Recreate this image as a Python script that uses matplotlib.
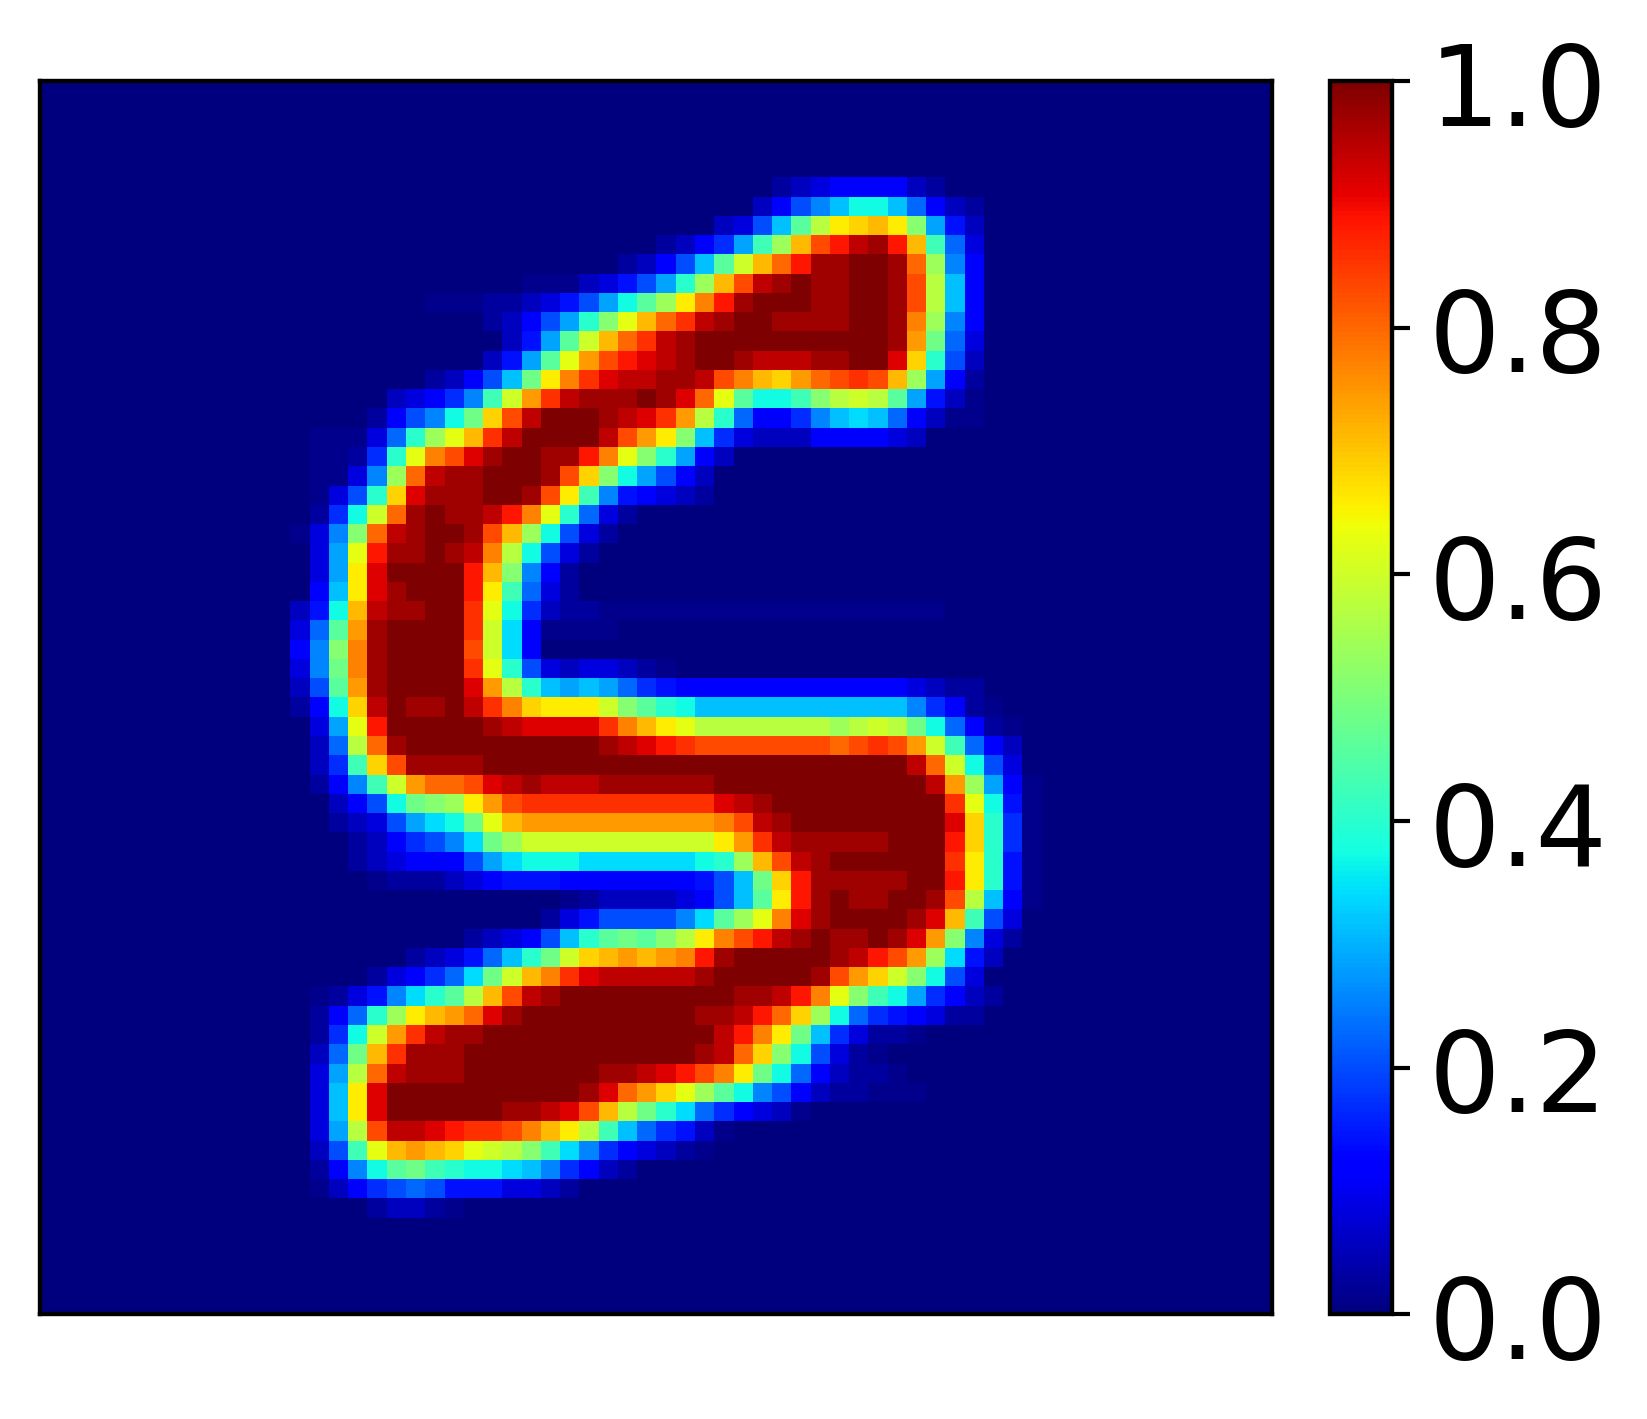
#!/usr/bin/env python

import numpy as np
import matplotlib
matplotlib.use('Agg')
import matplotlib.pyplot as plt
from matplotlib.transforms import ScaledTranslation

GRID_SIZE = 64
FAINT = 0.012

# Cell values, one base-36 digit per cell (0 -> 0.0, z -> 1.0),
# "+" is a barely visible cell just above the background
# first_row is the top row with signal, col_start the first column given for each row
first_row = 5
col_start = [38, 37, 35, 32, 30, 25, 20, 23, 24, 23,
             20, 18, 17, 14, 14, 14, 14, 14, 13, 14,
             14, 14, 13, 13, 13, 13, 13, 13, 14, 14,
             14, 14, 15, 15, 16, 16, 17, 27, 26, 22,
             19, 17, 14, 14, 14, 14, 14, 14, 14, 14,
             14, 14, 14, 17]
row_cells = [
	"123444421",
	"2479bddb8421",
	"237bgknopnia52",
	"1246afjptvxyvpf83",
	"1247bglpsvyyzzysj94",
	"+++2357aejptxyzyyzzytkb4",
	"+++112357adgjnrvyzzzyyzzytkb4",
	"1247aeimpsuxyzzyyyyzzyrj94",
	"25aglpsuxyzzzzzzzzzzyqh83",
	"25agmqtvwxyzzyxxxyyzzwoe72",
	"1247bhnruwxxyyxtrpoqstutpja41",
	"23469flquxyyyzywsmgddfiklkga52+",
	"1479dhotxzzzyxwuqke84469bcb842++",
	"+++38ejmpuxzzzzxtqnib63222444432",
	"++16emrtwyzzyyvrmiea42",
	"++39jsxyyzzzytoida742",
	"+37eowyyyzzytnf954321",
	"16dlsyzyyxvrme831",
	"+39isxyzzytpjd731",
	"3amvyyzyxrkd731",
	"3anwzzzzvpi941",
	"4bnwyzzzvnf831",
	"25dpxyyzzumd6211++++++++++++++++++",
	"38gqyzzzzulc4++++",
	"49iryzzzztlc4",
	"39hryzzzzume7323321+",
	"27gqyzzzzwqkebaba8654444444444443211",
	"14doxzyyzxuronnnligedbbbbbbbbbbb9641+",
	"3amvzzzzzyxwwwwurpnmkkkkkkkjklkhd841+",
	"28ksyzzzzzzzzzzyxwvutttttttstutqlf842",
	"26fotyyyyzzzzzzzzzzzzzzzzzzzzzzxsld73",
	"149flqsstwxyxxxyyyyyyzzzzzzzzzzzxqja4+",
	"247dhijnqtuuuuuuuuuuwxyzzzzzzzzzumd5+",
	"1237acdhmpqqqqqqqqqqrtxyzzzzzzzzwoe6+",
	"124679chjllllllllllnquxyyyyyzzzvoe6+",
	"1234447acdddccccccdejptxyzzzzzzune5+",
	"+111234555444444457bhovyyyyyzzvne5+",
	"+12222347bgnvyzyyzzytkb4+",
	"13577779cgjmrwyzzzzywpf73",
	"12347beghgiknrtvxyzyyzywqi931",
	"12358behlopqpqrvyzzzzzyxvtqjc52",
	"13468chlpruwxxxxxyzzzzzytqolid73",
	"+1359cegkptxyzzzzzzzzzyyxvrmifda6421",
	"148ejnpqswyzzzzzzzzzyyxvsojd8654311",
	"16dlquxyyzzzzzzzzzzzzxvrnhb6311+",
	"28hpuyyyzzzzzzzzzzzzyxsoid731+",
	"3aksxyyyzzzzzzzyyxwvtrnhd84211+",
	"3bnwzzzzzzzzzzywsqomjgd974211+++",
	"3bnwzzzzzzyyxwtpkhec86432+",
	"3aktxxwvuutrpnkfb8652+",
	"27fmpqpomlkifc964321+",
	"149dghfeddcb96421",
	"+2467875553321",
	"1221+",
]
cbar_ticks = [0.0, 0.2, 0.4, 0.6, 0.8, 1.0]

img = np.zeros((GRID_SIZE, GRID_SIZE))
for i, cells in enumerate(row_cells):
	for j, c in enumerate(cells):
		img[first_row + i, col_start[i] + j] = FAINT if c == "+" else int(c, 36) / 35

W, H = 1647, 1419
top, bottom = 81.5, 1314
fig = plt.figure(figsize=(W / 300, H / 300), dpi=300)
ax = fig.add_axes([39.6 / W, 1 - bottom / H, (1272 - 39.6) / W, (bottom - top) / H])
im = ax.imshow(img, cmap="jet", vmin=0, vmax=1, interpolation="nearest", aspect="auto")
ax.set_xticks([])
ax.set_yticks([])
for spine in ax.spines.values():
	spine.set_linewidth(1.05)

cax = fig.add_axes([1330 / W, 1 - bottom / H, 62 / W, (bottom - top) / H])
cbar = fig.colorbar(im, cax=cax)
cbar.set_ticks(cbar_ticks)
cbar.outline.set_linewidth(1.05)
cbar.ax.tick_params(labelsize=27, pad=4.6, width=1.0, length=4.3)

# the labels sit a little below their ticks in the original
shift = ScaledTranslation(0, -2 / 300, fig.dpi_scale_trans)
for label in cbar.ax.get_yticklabels():
	label.set_transform(label.get_transform() + shift)

plt.savefig("out.png", dpi=300)
